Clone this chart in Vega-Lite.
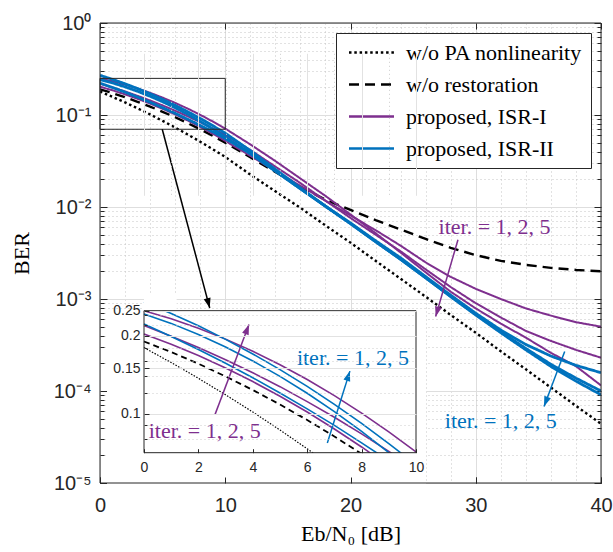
{
  "$schema": "https://vega.github.io/schema/vega-lite/v6.json",
  "background": "white",
  "padding": {"left": 10, "top": 13, "right": 5, "bottom": 5},
  "width": 501,
  "height": 460,
  "datasets": {
    "curves": [
      {"curve":"w/o PA nonlinearity","iter":0,"snr":0,"ber":0.180},{"curve":"w/o PA nonlinearity","iter":0,"snr":1,"ber":0.1575},{"curve":"w/o PA nonlinearity","iter":0,"snr":2,"ber":0.1369},{"curve":"w/o PA nonlinearity","iter":0,"snr":3,"ber":0.1182},{"curve":"w/o PA nonlinearity","iter":0,"snr":4,"ber":0.1014},{"curve":"w/o PA nonlinearity","iter":0,"snr":5,"ber":0.0864},{"curve":"w/o PA nonlinearity","iter":0,"snr":6,"ber":0.0731},{"curve":"w/o PA nonlinearity","iter":0,"snr":7,"ber":0.0614},{"curve":"w/o PA nonlinearity","iter":0,"snr":8,"ber":0.0513},{"curve":"w/o PA nonlinearity","iter":0,"snr":9,"ber":0.0425},{"curve":"w/o PA nonlinearity","iter":0,"snr":10,"ber":0.035},{"curve":"w/o PA nonlinearity","iter":0,"snr":12,"ber":0.0225},{"curve":"w/o PA nonlinearity","iter":0,"snr":14,"ber":0.0148},{"curve":"w/o PA nonlinearity","iter":0,"snr":16,"ber":0.0098},{"curve":"w/o PA nonlinearity","iter":0,"snr":18,"ber":0.0063},{"curve":"w/o PA nonlinearity","iter":0,"snr":20,"ber":0.0041},{"curve":"w/o PA nonlinearity","iter":0,"snr":22,"ber":0.0026},{"curve":"w/o PA nonlinearity","iter":0,"snr":24,"ber":0.00166},{"curve":"w/o PA nonlinearity","iter":0,"snr":26,"ber":0.00106},{"curve":"w/o PA nonlinearity","iter":0,"snr":28,"ber":0.00067},{"curve":"w/o PA nonlinearity","iter":0,"snr":30,"ber":0.00043},{"curve":"w/o PA nonlinearity","iter":0,"snr":32,"ber":0.00027},{"curve":"w/o PA nonlinearity","iter":0,"snr":34,"ber":0.000172},{"curve":"w/o PA nonlinearity","iter":0,"snr":36,"ber":0.000109},{"curve":"w/o PA nonlinearity","iter":0,"snr":38,"ber":0.000069},{"curve":"w/o PA nonlinearity","iter":0,"snr":40,"ber":0.000044},
      {"curve":"w/o restoration","iter":0,"snr":0,"ber":0.190},{"curve":"w/o restoration","iter":0,"snr":1,"ber":0.1730},{"curve":"w/o restoration","iter":0,"snr":2,"ber":0.1559},{"curve":"w/o restoration","iter":0,"snr":3,"ber":0.1392},{"curve":"w/o restoration","iter":0,"snr":4,"ber":0.1234},{"curve":"w/o restoration","iter":0,"snr":5,"ber":0.1084},{"curve":"w/o restoration","iter":0,"snr":6,"ber":0.0945},{"curve":"w/o restoration","iter":0,"snr":7,"ber":0.0816},{"curve":"w/o restoration","iter":0,"snr":8,"ber":0.0699},{"curve":"w/o restoration","iter":0,"snr":9,"ber":0.0594},{"curve":"w/o restoration","iter":0,"snr":10,"ber":0.0501},{"curve":"w/o restoration","iter":0,"snr":12,"ber":0.0347},{"curve":"w/o restoration","iter":0,"snr":14,"ber":0.024},{"curve":"w/o restoration","iter":0,"snr":16,"ber":0.0166},{"curve":"w/o restoration","iter":0,"snr":18,"ber":0.012},{"curve":"w/o restoration","iter":0,"snr":20,"ber":0.0093},{"curve":"w/o restoration","iter":0,"snr":22,"ber":0.0072},{"curve":"w/o restoration","iter":0,"snr":24,"ber":0.0057},{"curve":"w/o restoration","iter":0,"snr":26,"ber":0.0045},{"curve":"w/o restoration","iter":0,"snr":28,"ber":0.0036},{"curve":"w/o restoration","iter":0,"snr":30,"ber":0.0030},{"curve":"w/o restoration","iter":0,"snr":32,"ber":0.0026},{"curve":"w/o restoration","iter":0,"snr":34,"ber":0.00235},{"curve":"w/o restoration","iter":0,"snr":36,"ber":0.00218},{"curve":"w/o restoration","iter":0,"snr":38,"ber":0.00207},{"curve":"w/o restoration","iter":0,"snr":40,"ber":0.0020},
      {"curve":"proposed, ISR-I","iter":1,"snr":0,"ber":0.203},{"curve":"proposed, ISR-I","iter":1,"snr":1,"ber":0.1855},{"curve":"proposed, ISR-I","iter":1,"snr":2,"ber":0.1677},{"curve":"proposed, ISR-I","iter":1,"snr":3,"ber":0.1501},{"curve":"proposed, ISR-I","iter":1,"snr":4,"ber":0.1330},{"curve":"proposed, ISR-I","iter":1,"snr":5,"ber":0.1167},{"curve":"proposed, ISR-I","iter":1,"snr":6,"ber":0.1014},{"curve":"proposed, ISR-I","iter":1,"snr":7,"ber":0.0872},{"curve":"proposed, ISR-I","iter":1,"snr":8,"ber":0.0743},{"curve":"proposed, ISR-I","iter":1,"snr":9,"ber":0.0626},{"curve":"proposed, ISR-I","iter":1,"snr":10,"ber":0.0523},{"curve":"proposed, ISR-I","iter":1,"snr":12,"ber":0.036},{"curve":"proposed, ISR-I","iter":1,"snr":14,"ber":0.0247},{"curve":"proposed, ISR-I","iter":1,"snr":16,"ber":0.017},{"curve":"proposed, ISR-I","iter":1,"snr":18,"ber":0.0117},{"curve":"proposed, ISR-I","iter":1,"snr":20,"ber":0.0081},{"curve":"proposed, ISR-I","iter":1,"snr":22,"ber":0.0056},{"curve":"proposed, ISR-I","iter":1,"snr":24,"ber":0.0038},{"curve":"proposed, ISR-I","iter":1,"snr":26,"ber":0.0025},{"curve":"proposed, ISR-I","iter":1,"snr":28,"ber":0.00174},{"curve":"proposed, ISR-I","iter":1,"snr":30,"ber":0.00129},{"curve":"proposed, ISR-I","iter":1,"snr":32,"ber":0.0010},{"curve":"proposed, ISR-I","iter":1,"snr":34,"ber":0.00079},{"curve":"proposed, ISR-I","iter":1,"snr":36,"ber":0.00066},{"curve":"proposed, ISR-I","iter":1,"snr":38,"ber":0.00056},{"curve":"proposed, ISR-I","iter":1,"snr":40,"ber":0.0005},
      {"curve":"proposed, ISR-I","iter":2,"snr":0,"ber":0.219},{"curve":"proposed, ISR-I","iter":2,"snr":1,"ber":0.1993},{"curve":"proposed, ISR-I","iter":2,"snr":2,"ber":0.1803},{"curve":"proposed, ISR-I","iter":2,"snr":3,"ber":0.1616},{"curve":"proposed, ISR-I","iter":2,"snr":4,"ber":0.1439},{"curve":"proposed, ISR-I","iter":2,"snr":5,"ber":0.1271},{"curve":"proposed, ISR-I","iter":2,"snr":6,"ber":0.1113},{"curve":"proposed, ISR-I","iter":2,"snr":7,"ber":0.0968},{"curve":"proposed, ISR-I","iter":2,"snr":8,"ber":0.0835},{"curve":"proposed, ISR-I","iter":2,"snr":9,"ber":0.0714},{"curve":"proposed, ISR-I","iter":2,"snr":10,"ber":0.0607},{"curve":"proposed, ISR-I","iter":2,"snr":12,"ber":0.0417},{"curve":"proposed, ISR-I","iter":2,"snr":14,"ber":0.0275},{"curve":"proposed, ISR-I","iter":2,"snr":16,"ber":0.0182},{"curve":"proposed, ISR-I","iter":2,"snr":18,"ber":0.0117},{"curve":"proposed, ISR-I","iter":2,"snr":20,"ber":0.0076},{"curve":"proposed, ISR-I","iter":2,"snr":22,"ber":0.0050},{"curve":"proposed, ISR-I","iter":2,"snr":24,"ber":0.0033},{"curve":"proposed, ISR-I","iter":2,"snr":26,"ber":0.0021},{"curve":"proposed, ISR-I","iter":2,"snr":28,"ber":0.00135},{"curve":"proposed, ISR-I","iter":2,"snr":30,"ber":0.0009},{"curve":"proposed, ISR-I","iter":2,"snr":32,"ber":0.00063},{"curve":"proposed, ISR-I","iter":2,"snr":34,"ber":0.00045},{"curve":"proposed, ISR-I","iter":2,"snr":36,"ber":0.00035},{"curve":"proposed, ISR-I","iter":2,"snr":38,"ber":0.00028},{"curve":"proposed, ISR-I","iter":2,"snr":40,"ber":0.00023},
      {"curve":"proposed, ISR-I","iter":5,"snr":0,"ber":0.25},{"curve":"proposed, ISR-I","iter":5,"snr":1,"ber":0.2325},{"curve":"proposed, ISR-I","iter":5,"snr":2,"ber":0.2137},{"curve":"proposed, ISR-I","iter":5,"snr":3,"ber":0.1941},{"curve":"proposed, ISR-I","iter":5,"snr":4,"ber":0.1742},{"curve":"proposed, ISR-I","iter":5,"snr":5,"ber":0.1545},{"curve":"proposed, ISR-I","iter":5,"snr":6,"ber":0.1354},{"curve":"proposed, ISR-I","iter":5,"snr":7,"ber":0.1174},{"curve":"proposed, ISR-I","iter":5,"snr":8,"ber":0.1005},{"curve":"proposed, ISR-I","iter":5,"snr":9,"ber":0.0850},{"curve":"proposed, ISR-I","iter":5,"snr":10,"ber":0.0711},{"curve":"proposed, ISR-I","iter":5,"snr":12,"ber":0.0479},{"curve":"proposed, ISR-I","iter":5,"snr":14,"ber":0.0316},{"curve":"proposed, ISR-I","iter":5,"snr":16,"ber":0.0204},{"curve":"proposed, ISR-I","iter":5,"snr":18,"ber":0.0132},{"curve":"proposed, ISR-I","iter":5,"snr":20,"ber":0.0083},{"curve":"proposed, ISR-I","iter":5,"snr":22,"ber":0.0052},{"curve":"proposed, ISR-I","iter":5,"snr":24,"ber":0.0032},{"curve":"proposed, ISR-I","iter":5,"snr":26,"ber":0.00195},{"curve":"proposed, ISR-I","iter":5,"snr":28,"ber":0.0012},{"curve":"proposed, ISR-I","iter":5,"snr":30,"ber":0.00079},{"curve":"proposed, ISR-I","iter":5,"snr":32,"ber":0.00054},{"curve":"proposed, ISR-I","iter":5,"snr":34,"ber":0.00038},{"curve":"proposed, ISR-I","iter":5,"snr":36,"ber":0.00026},{"curve":"proposed, ISR-I","iter":5,"snr":38,"ber":0.000186},{"curve":"proposed, ISR-I","iter":5,"snr":40,"ber":0.000115},
      {"curve":"proposed, ISR-II","iter":1,"snr":0,"ber":0.222},{"curve":"proposed, ISR-II","iter":1,"snr":1,"ber":0.1988},{"curve":"proposed, ISR-II","iter":1,"snr":2,"ber":0.1770},{"curve":"proposed, ISR-II","iter":1,"snr":3,"ber":0.1565},{"curve":"proposed, ISR-II","iter":1,"snr":4,"ber":0.1376},{"curve":"proposed, ISR-II","iter":1,"snr":5,"ber":0.1202},{"curve":"proposed, ISR-II","iter":1,"snr":6,"ber":0.1043},{"curve":"proposed, ISR-II","iter":1,"snr":7,"ber":0.0900},{"curve":"proposed, ISR-II","iter":1,"snr":8,"ber":0.0771},{"curve":"proposed, ISR-II","iter":1,"snr":9,"ber":0.0657},{"curve":"proposed, ISR-II","iter":1,"snr":10,"ber":0.0555},{"curve":"proposed, ISR-II","iter":1,"snr":12,"ber":0.038},{"curve":"proposed, ISR-II","iter":1,"snr":14,"ber":0.0245},{"curve":"proposed, ISR-II","iter":1,"snr":16,"ber":0.0158},{"curve":"proposed, ISR-II","iter":1,"snr":18,"ber":0.0102},{"curve":"proposed, ISR-II","iter":1,"snr":20,"ber":0.0067},{"curve":"proposed, ISR-II","iter":1,"snr":22,"ber":0.0043},{"curve":"proposed, ISR-II","iter":1,"snr":24,"ber":0.0028},{"curve":"proposed, ISR-II","iter":1,"snr":26,"ber":0.00175},{"curve":"proposed, ISR-II","iter":1,"snr":28,"ber":0.0011},{"curve":"proposed, ISR-II","iter":1,"snr":30,"ber":0.0007},{"curve":"proposed, ISR-II","iter":1,"snr":32,"ber":0.00046},{"curve":"proposed, ISR-II","iter":1,"snr":34,"ber":0.00032},{"curve":"proposed, ISR-II","iter":1,"snr":36,"ber":0.00024},{"curve":"proposed, ISR-II","iter":1,"snr":38,"ber":0.00019},{"curve":"proposed, ISR-II","iter":1,"snr":40,"ber":0.000158},
      {"curve":"proposed, ISR-II","iter":2,"snr":0,"ber":0.243},{"curve":"proposed, ISR-II","iter":2,"snr":1,"ber":0.2233},{"curve":"proposed, ISR-II","iter":2,"snr":2,"ber":0.2023},{"curve":"proposed, ISR-II","iter":2,"snr":3,"ber":0.1810},{"curve":"proposed, ISR-II","iter":2,"snr":4,"ber":0.1598},{"curve":"proposed, ISR-II","iter":2,"snr":5,"ber":0.1393},{"curve":"proposed, ISR-II","iter":2,"snr":6,"ber":0.1199},{"curve":"proposed, ISR-II","iter":2,"snr":7,"ber":0.1018},{"curve":"proposed, ISR-II","iter":2,"snr":8,"ber":0.0853},{"curve":"proposed, ISR-II","iter":2,"snr":9,"ber":0.0706},{"curve":"proposed, ISR-II","iter":2,"snr":10,"ber":0.0577},{"curve":"proposed, ISR-II","iter":2,"snr":12,"ber":0.0385},{"curve":"proposed, ISR-II","iter":2,"snr":14,"ber":0.0247},{"curve":"proposed, ISR-II","iter":2,"snr":16,"ber":0.0158},{"curve":"proposed, ISR-II","iter":2,"snr":18,"ber":0.0102},{"curve":"proposed, ISR-II","iter":2,"snr":20,"ber":0.0066},{"curve":"proposed, ISR-II","iter":2,"snr":22,"ber":0.0042},{"curve":"proposed, ISR-II","iter":2,"snr":24,"ber":0.0027},{"curve":"proposed, ISR-II","iter":2,"snr":26,"ber":0.0017},{"curve":"proposed, ISR-II","iter":2,"snr":28,"ber":0.00107},{"curve":"proposed, ISR-II","iter":2,"snr":30,"ber":0.00068},{"curve":"proposed, ISR-II","iter":2,"snr":32,"ber":0.00044},{"curve":"proposed, ISR-II","iter":2,"snr":34,"ber":0.00029},{"curve":"proposed, ISR-II","iter":2,"snr":36,"ber":0.000195},{"curve":"proposed, ISR-II","iter":2,"snr":38,"ber":0.000138},{"curve":"proposed, ISR-II","iter":2,"snr":40,"ber":0.0001},
      {"curve":"proposed, ISR-II","iter":5,"snr":0,"ber":0.27},{"curve":"proposed, ISR-II","iter":5,"snr":1,"ber":0.2439},{"curve":"proposed, ISR-II","iter":5,"snr":2,"ber":0.2185},{"curve":"proposed, ISR-II","iter":5,"snr":3,"ber":0.1937},{"curve":"proposed, ISR-II","iter":5,"snr":4,"ber":0.1701},{"curve":"proposed, ISR-II","iter":5,"snr":5,"ber":0.1479},{"curve":"proposed, ISR-II","iter":5,"snr":6,"ber":0.1274},{"curve":"proposed, ISR-II","iter":5,"snr":7,"ber":0.1086},{"curve":"proposed, ISR-II","iter":5,"snr":8,"ber":0.0917},{"curve":"proposed, ISR-II","iter":5,"snr":9,"ber":0.0766},{"curve":"proposed, ISR-II","iter":5,"snr":10,"ber":0.0635},{"curve":"proposed, ISR-II","iter":5,"snr":12,"ber":0.041},{"curve":"proposed, ISR-II","iter":5,"snr":14,"ber":0.0257},{"curve":"proposed, ISR-II","iter":5,"snr":16,"ber":0.0161},{"curve":"proposed, ISR-II","iter":5,"snr":18,"ber":0.0102},{"curve":"proposed, ISR-II","iter":5,"snr":20,"ber":0.0066},{"curve":"proposed, ISR-II","iter":5,"snr":22,"ber":0.0042},{"curve":"proposed, ISR-II","iter":5,"snr":24,"ber":0.0027},{"curve":"proposed, ISR-II","iter":5,"snr":26,"ber":0.0017},{"curve":"proposed, ISR-II","iter":5,"snr":28,"ber":0.00106},{"curve":"proposed, ISR-II","iter":5,"snr":30,"ber":0.00067},{"curve":"proposed, ISR-II","iter":5,"snr":32,"ber":0.00043},{"curve":"proposed, ISR-II","iter":5,"snr":34,"ber":0.00028},{"curve":"proposed, ISR-II","iter":5,"snr":36,"ber":0.000185},{"curve":"proposed, ISR-II","iter":5,"snr":38,"ber":0.000128},{"curve":"proposed, ISR-II","iter":5,"snr":40,"ber":0.000091}
    ]
  },
  "resolve": {"scale": {"x": "independent", "y": "independent"}, "axis": {"x": "independent", "y": "independent"}},
  "layer": [
    {
      "data": {"name": "curves"},
      "resolve": {"axis": {"x": "independent", "y": "independent"}},
      "layer": [
        {
          "transform": [{"filter": "datum.curve == 'w/o PA nonlinearity' || datum.curve == 'w/o restoration'"}],
          "mark": {"type": "line", "strokeWidth": 2.4, "clip": true},
          "encoding": {
            "x": {"field": "snr", "type": "quantitative", "scale": {"domain": [0, 40], "nice": false},
              "axis": {"orient": "bottom", "values": [0,2,4,6,8,10,12,14,16,18,20,22,24,26,28,30,32,34,36,38,40],
                "labelExpr": "datum.value % 10 === 0 ? datum.label : ''",
                "labelFlush": false,
                "grid": true,
                "gridColor": {"condition": {"test": "datum.value % 10 === 0", "value": "#dedede"}, "value": "#c4c4c4"},
                "gridDash": {"condition": {"test": "datum.value % 10 === 0", "value": []}, "value": [1, 3]},
                "tickColor": {"condition": {"test": "datum.value % 10 === 0", "value": "#262626"}, "value": "transparent"},
                "tickSize": -6, "labelPadding": 18, "domain": false,
                "labelFont": "Liberation Sans", "labelFontSize": 20, "labelColor": "#262626",
                "title": "Eb/N₀ [dB]", "titleFont": "Liberation Serif", "titleFontSize": 22, "titleFontWeight": "normal", "titleColor": "black", "titlePadding": 8}},
            "y": {"field": "ber", "type": "quantitative", "scale": {"type": "log", "domain": [0.00001, 1], "nice": false},
              "axis": {"orient": "left",
                "values": [0.00001,0.00002,0.00003,0.00004,0.00005,0.00006,0.00007,0.00008,0.00009,0.0001,0.0002,0.0003,0.0004,0.0005,0.0006,0.0007,0.0008,0.0009,0.001,0.002,0.003,0.004,0.005,0.006,0.007,0.008,0.009,0.01,0.02,0.03,0.04,0.05,0.06,0.07,0.08,0.09,0.1,0.2,0.3,0.4,0.5,0.6,0.7,0.8,0.9,1],
                "labelExpr": "abs(log(datum.value)/LN10 - round(log(datum.value)/LN10)) < 0.001 ? '10' + ['⁰','⁻¹','⁻²','⁻³','⁻⁴','⁻⁵'][-round(log(datum.value)/LN10)] : ''",
                "labelFlush": false,
                "grid": true,
                "gridColor": {"condition": {"test": "abs(log(datum.value)/LN10 - round(log(datum.value)/LN10)) < 0.001", "value": "#dedede"}, "value": "#c4c4c4"},
                "gridDash": {"condition": {"test": "abs(log(datum.value)/LN10 - round(log(datum.value)/LN10)) < 0.001", "value": []}, "value": [1, 3]},
                "tickSize": {"condition": {"test": "abs(log(datum.value)/LN10 - round(log(datum.value)/LN10)) < 0.001", "value": -7}, "value": -4},
                "tickColor": "#262626", "labelPadding": 16, "domain": false,
                "labelFont": "Liberation Sans", "labelFontSize": 20, "labelColor": "#262626",
                "title": "BER", "titleFont": "Liberation Serif", "titleFontSize": 22, "titleFontWeight": "normal", "titleColor": "black", "titlePadding": 20}},
            "color": {"field": "curve", "type": "nominal",
              "scale": {"domain": ["w/o PA nonlinearity", "w/o restoration", "proposed, ISR-I", "proposed, ISR-II"], "range": ["#000000", "#000000", "#7E2F8E", "#0072BD"]},
              "legend": {"orient": "top-right", "offset": 10, "title": null, "strokeColor": "#262626", "fillColor": "white", "padding": 8,
                "symbolType": "M-2.25,0H2.25", "symbolSize": 400, "symbolOffset": 16, "symbolStrokeWidth": 2.5,
                "labelFont": "Liberation Serif", "labelFontSize": 22, "labelColor": "black", "labelOffset": 23, "rowPadding": 9, "labelLimit": 400}},
            "strokeDash": {"field": "curve", "type": "nominal",
              "scale": {"domain": ["w/o PA nonlinearity", "w/o restoration", "proposed, ISR-I", "proposed, ISR-II"], "range": [[2.5, 2.8], [10, 6], [1, 0], [1, 0]]}},
            "detail": {"field": "iter"}
          }
        },
        {
          "transform": [{"filter": "datum.curve == 'proposed, ISR-I'"}],
          "mark": {"type": "line", "strokeWidth": 2, "clip": true},
          "encoding": {
            "x": {"field": "snr", "type": "quantitative", "axis": null},
            "y": {"field": "ber", "type": "quantitative", "scale": {"type": "log"}, "axis": null},
            "color": {"field": "curve", "type": "nominal"},
            "strokeDash": {"field": "curve", "type": "nominal"},
            "detail": {"field": "iter"}
          }
        },
        {
          "transform": [{"filter": "datum.curve == 'proposed, ISR-II'"}],
          "mark": {"type": "line", "strokeWidth": 2.8, "clip": true},
          "encoding": {
            "x": {"field": "snr", "type": "quantitative", "axis": null},
            "y": {"field": "ber", "type": "quantitative", "scale": {"type": "log"}, "axis": null},
            "color": {"field": "curve", "type": "nominal"},
            "strokeDash": {"field": "curve", "type": "nominal"},
            "detail": {"field": "iter"}
          }
        },
        {
          "data": {"values": [{"x1": 0, "x2": 10, "y1": 0.07, "y2": 0.25}]},
          "mark": {"type": "rect", "filled": false, "stroke": "#262626", "strokeWidth": 1},
          "encoding": {
            "x": {"field": "x1", "type": "quantitative",
              "axis": {"orient": "top", "values": [0, 10, 20, 30, 40], "labels": false, "title": null, "grid": false, "domain": false, "tickSize": -6, "tickColor": "#262626"}},
            "x2": {"field": "x2"},
            "y": {"field": "y1", "type": "quantitative", "scale": {"type": "log"},
              "axis": {"orient": "right", "values": [0.00001,0.00002,0.00003,0.00004,0.00005,0.00006,0.00007,0.00008,0.00009,0.0001,0.0002,0.0003,0.0004,0.0005,0.0006,0.0007,0.0008,0.0009,0.001,0.002,0.003,0.004,0.005,0.006,0.007,0.008,0.009,0.01,0.02,0.03,0.04,0.05,0.06,0.07,0.08,0.09,0.1,0.2,0.3,0.4,0.5,0.6,0.7,0.8,0.9,1],
                "labels": false, "title": null, "grid": false, "domain": false, "tickColor": "#262626",
                "tickSize": {"condition": {"test": "abs(log(datum.value)/LN10 - round(log(datum.value)/LN10)) < 0.001", "value": -7}, "value": -4}}},
            "y2": {"field": "y2"}
          }
        },
        {
          "data": {"values": [{"x": 31.5, "y": 0.0061, "label": "iter. = 1, 2, 5"}]},
          "mark": {"type": "text", "font": "Liberation Serif", "fontSize": 22, "color": "#7E2F8E"},
          "encoding": {
            "x": {"field": "x", "type": "quantitative", "axis": null},
            "y": {"field": "y", "type": "quantitative", "scale": {"type": "log"}, "axis": null},
            "text": {"field": "label"}
          }
        },
        {
          "data": {"values": [{"x": 32.0, "y": 0.0000468, "label": "iter. = 1, 2, 5"}]},
          "mark": {"type": "text", "font": "Liberation Serif", "fontSize": 22, "color": "#0072BD"},
          "encoding": {
            "x": {"field": "x", "type": "quantitative", "axis": null},
            "y": {"field": "y", "type": "quantitative", "scale": {"type": "log"}, "axis": null},
            "text": {"field": "label"}
          }
        },
        {
          "data": {"values": [{"x": 28.58, "y": 0.00441, "x2": 26.8, "y2": 0.000646}]},
          "mark": {"type": "rule", "color": "#7E2F8E", "strokeWidth": 1.5},
          "encoding": {
            "x": {"field": "x", "type": "quantitative", "axis": null},
            "y": {"field": "y", "type": "quantitative", "scale": {"type": "log"}, "axis": null},
            "x2": {"field": "x2"}, "y2": {"field": "y2"}
          }
        },
        {
          "data": {"values": [{"x2": 26.8, "y2": 0.000646}]},
          "mark": {"type": "point", "shape": "M0,0L-0.7,2L0.7,2Z", "filled": true, "size": 100, "angle": 196, "color": "#7E2F8E", "opacity": 1},
          "encoding": {
            "x": {"field": "x2", "type": "quantitative", "axis": null},
            "y": {"field": "y2", "type": "quantitative", "scale": {"type": "log"}, "axis": null}
          }
        },
        {
          "data": {"values": [{"x": 37.1, "y": 0.000269, "x2": 35.45, "y2": 0.000068}]},
          "mark": {"type": "rule", "color": "#0072BD", "strokeWidth": 1.5},
          "encoding": {
            "x": {"field": "x", "type": "quantitative", "axis": null},
            "y": {"field": "y", "type": "quantitative", "scale": {"type": "log"}, "axis": null},
            "x2": {"field": "x2"}, "y2": {"field": "y2"}
          }
        },
        {
          "data": {"values": [{"x2": 35.45, "y2": 0.000068}]},
          "mark": {"type": "point", "shape": "M0,0L-0.7,2L0.7,2Z", "filled": true, "size": 100, "angle": 201, "color": "#0072BD", "opacity": 1},
          "encoding": {
            "x": {"field": "x2", "type": "quantitative", "axis": null},
            "y": {"field": "y2", "type": "quantitative", "scale": {"type": "log"}, "axis": null}
          }
        },
        {
          "data": {"values": [{"x": 4.97, "y": 0.07, "x2": 8.76, "y2": 0.000798}]},
          "mark": {"type": "rule", "color": "black", "strokeWidth": 1.5},
          "encoding": {
            "x": {"field": "x", "type": "quantitative", "axis": null},
            "y": {"field": "y", "type": "quantitative", "scale": {"type": "log"}, "axis": null},
            "x2": {"field": "x2"}, "y2": {"field": "y2"}
          }
        },
        {
          "data": {"values": [{"x2": 8.76, "y2": 0.000798}]},
          "mark": {"type": "point", "shape": "M0,0L-0.7,2L0.7,2Z", "filled": true, "size": 100, "angle": 165, "color": "black", "opacity": 1},
          "encoding": {
            "x": {"field": "x2", "type": "quantitative", "axis": null},
            "y": {"field": "y2", "type": "quantitative", "scale": {"type": "log"}, "axis": null}
          }
        }
      ]
    },
    {
      "data": {"name": "curves"},
      "layer": [
        {
          "data": {"values": [{"x1": -1.36, "x2": 10.37, "y1": 0.0545, "y2": 0.25}]},
          "mark": {"type": "rect", "color": "white", "opacity": 1},
          "encoding": {
            "x": {"field": "x1", "type": "quantitative", "scale": {"domain": [0, 10], "range": [44, 316], "nice": false, "zero": false},
              "axis": {"orient": "bottom", "offset": -30.3, "zindex": 1, "values": [0,1,2,3,4,5,6,7,8,9,10],
                "labelExpr": "datum.value % 2 === 0 ? datum.label : ''",
                "labelFlush": false,
                "grid": true,
                "gridColor": {"condition": {"test": "datum.value % 2 === 0", "value": "#e2e2e2"}, "value": "#cccccc"},
                "gridDash": {"condition": {"test": "datum.value % 2 === 0", "value": []}, "value": [1, 3]},
                "tickColor": {"condition": {"test": "datum.value % 2 === 0", "value": "#262626"}, "value": "transparent"},
                "tickSize": -4, "labelPadding": 12, "domain": false,
                "labelFont": "Liberation Sans", "labelFontSize": 14, "labelColor": "#262626", "title": null}},
            "x2": {"field": "x2"},
            "y": {"field": "y1", "type": "quantitative", "scale": {"type": "log", "domain": [0.0706, 0.25], "range": [429.7, 287.7], "nice": false},
              "axis": {"orient": "left", "offset": -44, "zindex": 1, "values": [0.08, 0.09, 0.1, 0.12, 0.14, 0.15, 0.16, 0.18, 0.2, 0.22, 0.24, 0.25],
                "labelExpr": "(datum.value == 0.1 || datum.value == 0.15 || datum.value == 0.2 || datum.value == 0.25) ? '' + datum.value : ''",
                "labelFlush": false,
                "grid": true,
                "gridColor": {"condition": {"test": "datum.value == 0.1 || datum.value == 0.15 || datum.value == 0.2 || datum.value == 0.25", "value": "#e2e2e2"}, "value": "#cccccc"},
                "gridDash": {"condition": {"test": "datum.value == 0.1 || datum.value == 0.15 || datum.value == 0.2 || datum.value == 0.25", "value": []}, "value": [1, 3]},
                "tickSize": {"condition": {"test": "datum.value == 0.1 || datum.value == 0.15 || datum.value == 0.2 || datum.value == 0.25", "value": -5}, "value": -3},
                "tickColor": "#262626", "labelPadding": 9, "domain": false,
                "labelFont": "Liberation Sans", "labelFontSize": 14, "labelColor": "#262626", "title": null}},
            "y2": {"field": "y2"}
          }
        },
        {
          "transform": [{"filter": "datum.curve == 'w/o PA nonlinearity' && datum.snr <= 10"}],
          "mark": {"type": "line", "color": "black", "strokeWidth": 1.2, "strokeDash": [1.5, 1.5], "clip": true},
          "encoding": {
            "x": {"field": "snr", "type": "quantitative"},
            "y": {"field": "ber", "type": "quantitative", "scale": {"type": "log"}}
          }
        },
        {
          "transform": [{"filter": "datum.curve == 'w/o restoration' && datum.snr <= 10"}],
          "mark": {"type": "line", "color": "black", "strokeWidth": 1.8, "strokeDash": [6, 4], "clip": true},
          "encoding": {
            "x": {"field": "snr", "type": "quantitative"},
            "y": {"field": "ber", "type": "quantitative", "scale": {"type": "log"}}
          }
        },
        {
          "transform": [{"filter": "datum.curve == 'proposed, ISR-I' && datum.snr <= 10"}],
          "mark": {"type": "line", "color": "#7E2F8E", "strokeWidth": 1.6, "clip": true},
          "encoding": {
            "x": {"field": "snr", "type": "quantitative"},
            "y": {"field": "ber", "type": "quantitative", "scale": {"type": "log"}},
            "detail": {"field": "iter"}
          }
        },
        {
          "transform": [{"filter": "datum.curve == 'proposed, ISR-II' && datum.snr <= 10"}],
          "mark": {"type": "line", "color": "#0072BD", "strokeWidth": 1.6, "clip": true},
          "encoding": {
            "x": {"field": "snr", "type": "quantitative"},
            "y": {"field": "ber", "type": "quantitative", "scale": {"type": "log"}},
            "detail": {"field": "iter"}
          }
        },
        {
          "data": {"values": [{"x1": -1.36, "x2": 10.37, "y1": 0.051, "y2": 0.0706}, {"x1": 0, "x2": 1.2, "y1": 0.25, "y2": 0.29}]},
          "mark": {"type": "rect", "color": "white", "opacity": 1},
          "encoding": {
            "x": {"field": "x1", "type": "quantitative"},
            "x2": {"field": "x2"},
            "y": {"field": "y1", "type": "quantitative", "scale": {"type": "log"}},
            "y2": {"field": "y2"}
          }
        },
        {
          "data": {"values": [{"x1": 0, "x2": 10, "y1": 0.0706, "y2": 0.25}]},
          "mark": {"type": "rect", "filled": false, "stroke": "#262626", "strokeWidth": 1},
          "encoding": {
            "x": {"field": "x1", "type": "quantitative"},
            "x2": {"field": "x2"},
            "y": {"field": "y1", "type": "quantitative", "scale": {"type": "log"}},
            "y2": {"field": "y2"}
          }
        },
        {
          "data": {"values": [{"x": 2.23, "y": 0.0855, "label": "iter. = 1, 2, 5"}]},
          "mark": {"type": "text", "font": "Liberation Serif", "fontSize": 22, "color": "#7E2F8E"},
          "encoding": {
            "x": {"field": "x", "type": "quantitative"},
            "y": {"field": "y", "type": "quantitative", "scale": {"type": "log"}},
            "text": {"field": "label"}
          }
        },
        {
          "data": {"values": [{"x": 7.68, "y": 0.164, "label": "iter. = 1, 2, 5"}]},
          "mark": {"type": "text", "font": "Liberation Serif", "fontSize": 22, "color": "#0072BD"},
          "encoding": {
            "x": {"field": "x", "type": "quantitative"},
            "y": {"field": "y", "type": "quantitative", "scale": {"type": "log"}},
            "text": {"field": "label"}
          }
        },
        {
          "data": {"values": [{"x": 2.61, "y": 0.0991, "x2": 3.86, "y2": 0.221}]},
          "mark": {"type": "rule", "color": "#7E2F8E", "strokeWidth": 1.5},
          "encoding": {
            "x": {"field": "x", "type": "quantitative"},
            "y": {"field": "y", "type": "quantitative", "scale": {"type": "log"}},
            "x2": {"field": "x2"}, "y2": {"field": "y2"}
          }
        },
        {
          "data": {"values": [{"x2": 3.86, "y2": 0.221}]},
          "mark": {"type": "point", "shape": "M0,0L-0.7,2L0.7,2Z", "filled": true, "size": 100, "angle": 21, "color": "#7E2F8E", "opacity": 1},
          "encoding": {
            "x": {"field": "x2", "type": "quantitative"},
            "y": {"field": "y2", "type": "quantitative", "scale": {"type": "log"}}
          }
        },
        {
          "data": {"values": [{"x": 6.74, "y": 0.077, "x2": 7.57, "y2": 0.146}]},
          "mark": {"type": "rule", "color": "#0072BD", "strokeWidth": 1.5},
          "encoding": {
            "x": {"field": "x", "type": "quantitative"},
            "y": {"field": "y", "type": "quantitative", "scale": {"type": "log"}},
            "x2": {"field": "x2"}, "y2": {"field": "y2"}
          }
        },
        {
          "data": {"values": [{"x2": 7.57, "y2": 0.146}]},
          "mark": {"type": "point", "shape": "M0,0L-0.7,2L0.7,2Z", "filled": true, "size": 100, "angle": 18, "color": "#0072BD", "opacity": 1},
          "encoding": {
            "x": {"field": "x2", "type": "quantitative"},
            "y": {"field": "y2", "type": "quantitative", "scale": {"type": "log"}}
          }
        }
      ]
    },
    {
      "data": {"values": [{"x1": 0, "x2": 40, "y1": 0.00001, "y2": 1}]},
      "mark": {"type": "rect", "filled": false, "stroke": "#262626", "strokeWidth": 1},
      "encoding": {
        "x": {"field": "x1", "type": "quantitative", "scale": {"domain": [0, 40], "nice": false},
          "axis": {"orient": "bottom", "values": [0, 10, 20, 30, 40], "labels": false, "title": null, "grid": false, "domain": false, "tickSize": -6, "tickColor": "#262626", "zindex": 1}},
        "x2": {"field": "x2"},
        "y": {"field": "y1", "type": "quantitative", "scale": {"type": "log", "domain": [0.00001, 1], "nice": false}, "axis": null},
        "y2": {"field": "y2"}
      }
    }
  ],
  "config": {
    "view": {"stroke": "#262626", "strokeWidth": 1}
  }
}
